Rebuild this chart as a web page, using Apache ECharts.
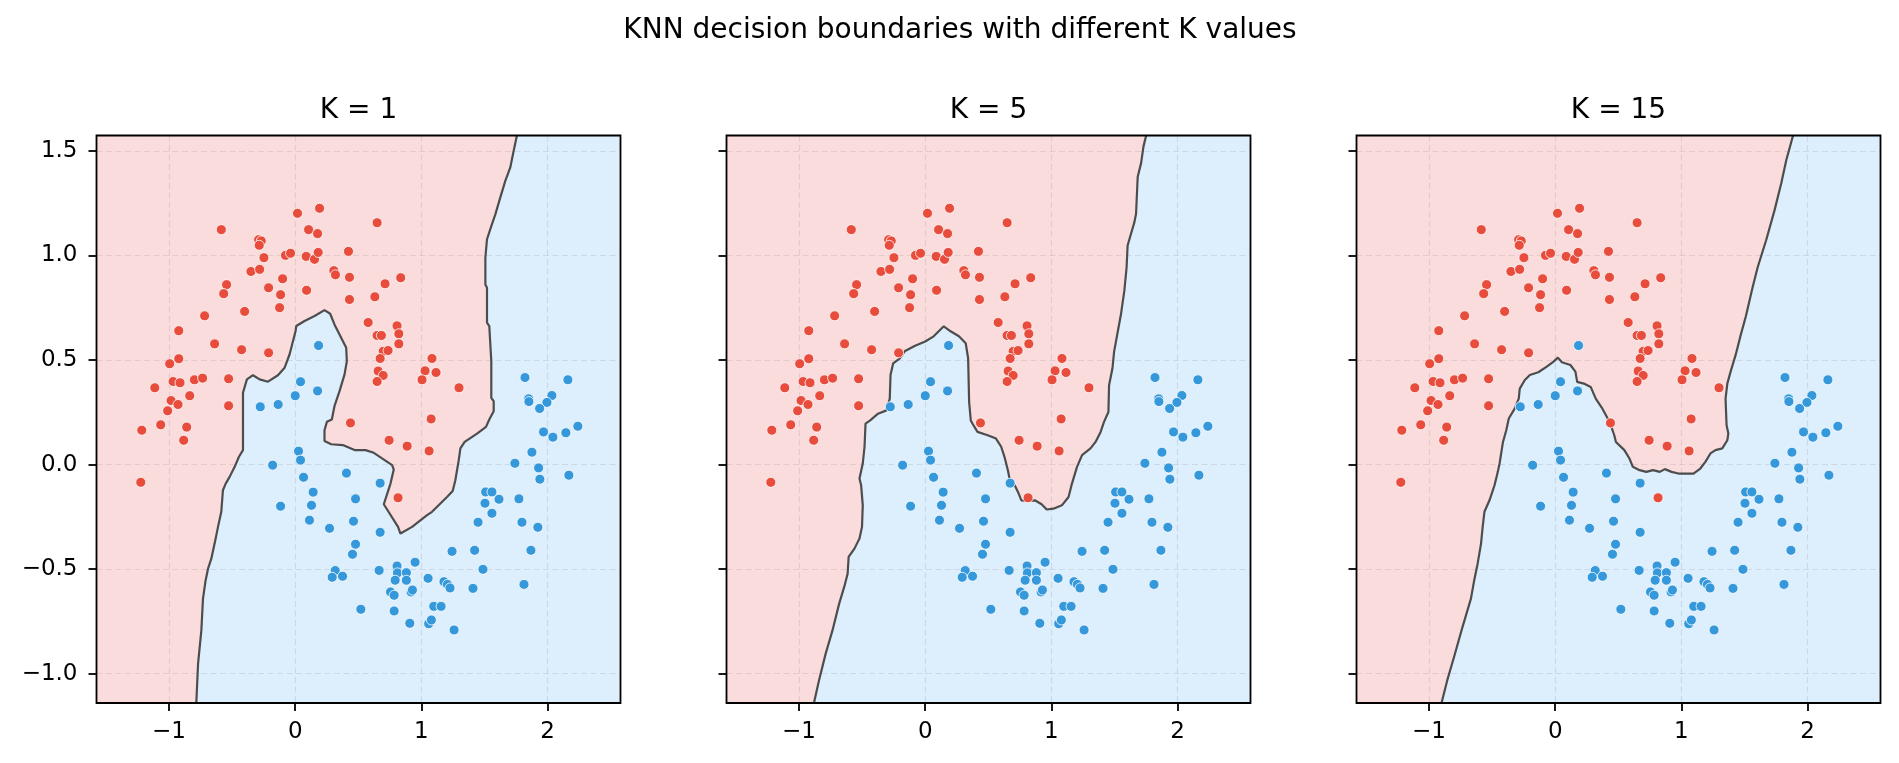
<!DOCTYPE html>
<html>
<head>
<meta charset="utf-8">
<title>KNN decision boundaries</title>
<script src="https://cdn.jsdelivr.net/npm/echarts@6.0.0/dist/echarts.min.js"></script>
<style>
html, body { margin: 0; padding: 0; background: #fff; }
#chart { width: 1899px; height: 763px; }
</style>
</head>
<body>
<div id="chart"></div>
<script>
// values
const kValues = [1, 5, 15];
const xRange = [-1.575, 2.578];
const yRange = [-1.14, 1.573];
const xTicks = [-1, 0, 1, 2];
const yTicks = [-1.0, -0.5, 0.0, 0.5, 1.0, 1.5];

const redPoints = [
  [-0.586,1.123],[-0.290,1.075],[-0.269,1.069],[-0.285,1.048],[-0.248,0.989],
  [-0.351,0.923],[-0.282,0.933],[-0.544,0.860],[-0.567,0.817],[-0.401,0.732],
  [-0.718,0.711],[-0.923,0.640],[-0.639,0.577],[-0.425,0.549],[-0.211,0.534],
  [-0.923,0.506],[-0.995,0.482],[-0.968,0.397],[-0.913,0.391],[-1.113,0.367],
  [-0.799,0.405],[-0.734,0.413],[-0.528,0.410],[-0.836,0.329],[-0.984,0.306],
  [-0.929,0.287],[-1.011,0.257],[-0.528,0.281],[-0.211,0.845],[-0.100,0.888],
  [-0.116,0.812],[-0.124,0.750],[-0.077,1.000],[-0.037,1.010],[0.018,1.201],
  [0.193,1.225],[0.106,1.123],[0.177,1.104],[0.087,0.995],[0.153,0.981],
  [0.182,1.014],[0.090,0.833],[0.306,0.927],[0.319,0.907],[0.422,1.019],
  [0.430,0.895],[0.430,0.789],[0.438,0.199],
  [0.649,1.156],[0.836,0.893],[0.712,0.864],[0.631,0.802],[0.578,0.679],
  [0.807,0.663],[0.821,0.625],[0.649,0.617],[0.683,0.617],[0.821,0.577],
  [0.697,0.541],[0.736,0.545],[0.673,0.507],[1.084,0.507],[0.657,0.447],
  [0.697,0.426],[0.649,0.397],[1.029,0.448],[1.116,0.440],[1.005,0.405],
  [1.298,0.367],[1.077,0.218],
  [-1.216,0.164],[-1.066,0.190],[-0.860,0.179],[-0.884,0.116],[-1.224,-0.085],
  [0.744,0.116],[0.887,0.088],[1.061,0.065],[0.815,-0.159]
];

const bluePoints = [
  [0.185,0.569],[0.042,0.396],[0.177,0.352],[0.000,0.329],[-0.135,0.287],[-0.277,0.276],
  [1.821,0.416],[2.161,0.405],[1.850,0.314],[1.852,0.301],[2.034,0.330],[1.995,0.297],[1.937,0.268],
  [0.026,0.064],[0.042,0.021],[-0.179,-0.003],[0.066,-0.061],[0.406,-0.041],[0.142,-0.132],
  [0.478,-0.164],[-0.116,-0.199],[0.129,-0.195],[0.113,-0.266],[0.272,-0.305],[0.462,-0.271],
  [0.478,-0.381],[0.454,-0.429],[0.317,-0.507],[0.293,-0.539],[0.375,-0.534],[0.520,-0.692],
  [1.968,0.156],[2.042,0.131],[2.145,0.152],[2.240,0.183],[1.876,0.059],[1.741,0.006],
  [1.929,-0.016],[1.939,-0.070],[2.169,-0.051],[0.673,-0.089],[1.509,-0.131],[1.559,-0.131],
  [1.615,-0.166],[1.504,-0.185],[1.773,-0.164],[1.559,-0.233],[1.449,-0.276],[1.797,-0.276],
  [1.923,-0.300],[0.673,-0.324],[1.243,-0.415],[1.422,-0.410],[1.868,-0.410],[1.488,-0.501],
  [1.813,-0.573],[0.665,-0.506],[0.807,-0.485],[0.810,-0.518],[0.881,-0.517],[0.950,-0.467],
  [0.792,-0.553],[0.881,-0.553],[1.053,-0.544],[1.179,-0.560],[1.206,-0.573],[1.227,-0.590],
  [1.409,-0.592],[0.755,-0.609],[0.784,-0.625],[0.918,-0.609],[0.929,-0.600],[0.784,-0.700],
  [1.098,-0.678],[1.156,-0.678],[0.908,-0.759],[1.058,-0.761],[1.079,-0.743],[1.259,-0.791]
];

// decision boundary traced from bottom edge to top edge
const boundaryK1 = [
  [-0.784,-1.14],[-0.770,-0.952],[-0.744,-0.793],[-0.731,-0.641],[-0.710,-0.553],[-0.691,-0.498],
  [-0.665,-0.450],[-0.639,-0.378],[-0.612,-0.298],[-0.586,-0.226],[-0.573,-0.123],[-0.551,-0.091],
  [-0.520,-0.059],[-0.480,-0.011],[-0.446,0.037],[-0.414,0.069],[-0.414,0.343],[-0.383,0.407],
  [-0.335,0.427],[-0.282,0.407],[-0.216,0.396],[-0.137,0.427],[-0.084,0.463],[-0.045,0.526],
  [0.003,0.638],[0.008,0.662],[0.074,0.686],[0.153,0.710],[0.232,0.738],[0.277,0.721],
  [0.311,0.670],[0.364,0.606],[0.404,0.558],[0.409,0.494],[0.391,0.431],[0.351,0.351],
  [0.311,0.279],[0.290,0.215],[0.251,0.204],[0.232,0.164],[0.232,0.113],[0.285,0.097],
  [0.377,0.093],[0.470,0.069],[0.557,0.069],[0.623,0.056],[0.768,-0.003],[0.781,-0.024],
  [0.755,-0.091],[0.702,-0.190],[0.815,-0.298],[0.834,-0.330],[0.926,-0.298],[1.045,-0.242],
  [1.084,-0.226],[1.203,-0.155],[1.248,-0.126],[1.269,-0.075],[1.296,0.021],[1.309,0.077],
  [1.343,0.108],[1.441,0.148],[1.512,0.180],[1.538,0.215],[1.573,0.255],[1.573,0.303],
  [1.554,0.319],[1.554,0.494],[1.538,0.662],[1.520,0.678],[1.520,0.845],[1.507,0.861],
  [1.507,0.989],[1.520,1.077],[1.554,1.140],[1.586,1.196],[1.625,1.276],[1.665,1.356],
  [1.704,1.419],[1.731,1.499],[1.757,1.573]
];

const boundaryK5 = [
  [-0.882,-1.14],[-0.842,-1.032],[-0.789,-0.904],[-0.735,-0.793],[-0.682,-0.665],[-0.642,-0.585],
  [-0.615,-0.522],[-0.607,-0.442],[-0.561,-0.402],[-0.521,-0.354],[-0.501,-0.298],[-0.495,-0.195],
  [-0.508,-0.099],[-0.521,-0.067],[-0.495,0.005],[-0.481,0.085],[-0.473,0.196],[-0.436,0.211],
  [-0.374,0.243],[-0.307,0.259],[-0.281,0.315],[-0.275,0.428],[-0.254,0.484],[-0.201,0.508],
  [-0.160,0.543],[-0.080,0.568],[0.000,0.588],[0.067,0.613],[0.147,0.661],[0.201,0.637],
  [0.267,0.613],[0.321,0.580],[0.340,0.508],[0.348,0.299],[0.361,0.211],[0.374,0.196],
  [0.414,0.156],[0.495,0.140],[0.561,0.124],[0.602,0.085],[0.628,0.037],[0.655,-0.027],
  [0.668,-0.067],[0.709,-0.099],[0.735,-0.131],[0.762,-0.171],[0.829,-0.174],[0.869,-0.171],
  [0.922,-0.190],[0.963,-0.215],[1.016,-0.211],[1.083,-0.195],[1.136,-0.155],[1.163,-0.091],
  [1.203,-0.011],[1.243,0.045],[1.310,0.077],[1.350,0.108],[1.390,0.156],[1.417,0.204],
  [1.452,0.251],[1.457,0.379],[1.484,0.460],[1.497,0.540],[1.524,0.629],[1.551,0.717],
  [1.578,0.830],[1.596,0.942],[1.604,1.047],[1.631,1.103],[1.658,1.159],[1.671,1.199],
  [1.684,1.376],[1.711,1.441],[1.730,1.521],[1.751,1.573]
];

const boundaryK15 = [
  [-0.901,-1.14],[-0.856,-1.032],[-0.802,-0.920],[-0.735,-0.777],[-0.668,-0.641],[-0.642,-0.553],
  [-0.615,-0.474],[-0.588,-0.378],[-0.575,-0.298],[-0.561,-0.226],[-0.521,-0.171],[-0.481,-0.099],
  [-0.455,-0.035],[-0.441,0.005],[-0.414,0.108],[-0.388,0.164],[-0.368,0.220],[-0.321,0.267],
  [-0.289,0.315],[-0.281,0.363],[-0.241,0.404],[-0.201,0.428],[-0.134,0.441],[-0.067,0.468],
  [-0.013,0.492],[0.021,0.511],[0.053,0.489],[0.120,0.476],[0.160,0.444],[0.174,0.395],
  [0.227,0.387],[0.281,0.371],[0.321,0.315],[0.374,0.267],[0.416,0.220],[0.436,0.196],
  [0.468,0.140],[0.481,0.108],[0.548,0.069],[0.588,0.029],[0.615,-0.011],[0.668,-0.027],
  [0.722,-0.035],[0.775,-0.027],[0.829,-0.035],[0.869,-0.022],[0.922,-0.035],[0.976,-0.043],
  [1.096,-0.043],[1.150,-0.019],[1.190,0.013],[1.230,0.053],[1.270,0.069],[1.324,0.077],
  [1.364,0.116],[1.372,0.148],[1.358,0.188],[1.356,0.219],[1.350,0.315],[1.364,0.387],
  [1.390,0.444],[1.430,0.524],[1.471,0.621],[1.511,0.709],[1.564,0.846],[1.604,0.942],
  [1.671,1.071],[1.738,1.215],[1.791,1.344],[1.832,1.457],[1.885,1.573]
];

const boundaries = [boundaryK1, boundaryK5, boundaryK15];

const redFill = '#fadcdd';
const blueFill = '#ddeefd';
const redDot = '#e74c3c';
const blueDot = '#3498db';
const font = 'DejaVu Sans';

const gridLeft = [96.5, 726.5, 1356.5];
const gridTop = 135.5;
const gridWidth = 524;
const gridHeight = 567.5;

function minusSign(v, digits) {
  return v.toFixed(digits).replace('-', '\u2212');
}

function regionRenderer(boundary) {
  return function (params, api) {
    const tl = api.coord([xRange[0], yRange[1]]);
    const br = api.coord([xRange[1], yRange[0]]);
    const poly = boundary
      .concat([[xRange[0], yRange[1]], [xRange[0], yRange[0]]])
      .map(p => api.coord(p));
    return {
      type: 'group',
      children: [
        { type: 'rect', shape: { x: tl[0], y: tl[1], width: br[0] - tl[0], height: br[1] - tl[1] },
          style: { fill: blueFill } },
        { type: 'polygon', shape: { points: poly }, style: { fill: redFill } }
      ]
    };
  };
}

const grids = [], xAxes = [], yAxes = [], series = [];
const titles = [{
  text: 'KNN decision boundaries with different K values',
  left: 960, top: 17, textAlign: 'center', padding: 0,
  textStyle: { fontFamily: font, fontSize: 28, fontWeight: 'normal', color: '#000' }
}];

const splitStyle = { show: true, lineStyle: { color: 'rgba(140,140,150,0.22)', width: 1.2, type: [6, 3.5] } };

kValues.forEach((k, i) => {
  grids.push({
    left: gridLeft[i], top: gridTop, width: gridWidth, height: gridHeight,
    show: true, backgroundColor: 'transparent', borderColor: '#000', borderWidth: 1.8, z: 6
  });
  titles.push({
    text: 'K = ' + k, left: gridLeft[i] + gridWidth / 2, top: 97, textAlign: 'center', padding: 0,
    textStyle: { fontFamily: font, fontSize: 28, fontWeight: 'normal', color: '#000' }
  });
  xAxes.push({
    type: 'value', gridIndex: i, position: 'bottom', min: xRange[0], max: xRange[1], z: 1.5,
    axisLine: { show: false, onZero: false },
    axisTick: { show: true, length: 8, customValues: xTicks, lineStyle: { color: '#000', width: 1.8 } },
    axisLabel: { show: true, margin: 18, customValues: xTicks, fontFamily: font, fontSize: 23, color: '#000',
      formatter: v => minusSign(v, 0) },
    splitLine: splitStyle
  });
  yAxes.push({
    type: 'value', gridIndex: i, position: 'left', min: yRange[0], max: yRange[1], z: 1.5,
    axisLine: { show: false, onZero: false },
    axisTick: { show: true, length: 8, customValues: yTicks, lineStyle: { color: '#000', width: 1.8 } },
    axisLabel: { show: i === 0, margin: 19, customValues: yTicks, fontFamily: font, fontSize: 23, color: '#000',
      formatter: v => minusSign(v, 1) },
    splitLine: splitStyle
  });
  series.push({
    type: 'custom', xAxisIndex: i, yAxisIndex: i, z: 1, clip: true, silent: true,
    renderItem: regionRenderer(boundaries[i]), data: [[0, 0]]
  });
  series.push({
    type: 'line', xAxisIndex: i, yAxisIndex: i, z: 3, data: boundaries[i],
    showSymbol: false, symbol: 'none', silent: true,
    lineStyle: { color: '#4d4d4d', width: 2.2 }
  });
  series.push({
    type: 'scatter', xAxisIndex: i, yAxisIndex: i, z: 4, data: redPoints, symbolSize: 10,
    itemStyle: { color: redDot, borderColor: '#fff', borderWidth: 0.8, opacity: 1 }
  });
  series.push({
    type: 'scatter', xAxisIndex: i, yAxisIndex: i, z: 4, data: bluePoints, symbolSize: 10,
    itemStyle: { color: blueDot, borderColor: '#fff', borderWidth: 0.8, opacity: 1 }
  });
});

const chart = echarts.init(document.getElementById('chart'), null, { renderer: 'canvas' });
chart.setOption({
  animation: false,
  backgroundColor: '#fff',
  title: titles,
  grid: grids,
  xAxis: xAxes,
  yAxis: yAxes,
  series: series
});
</script>
</body>
</html>
